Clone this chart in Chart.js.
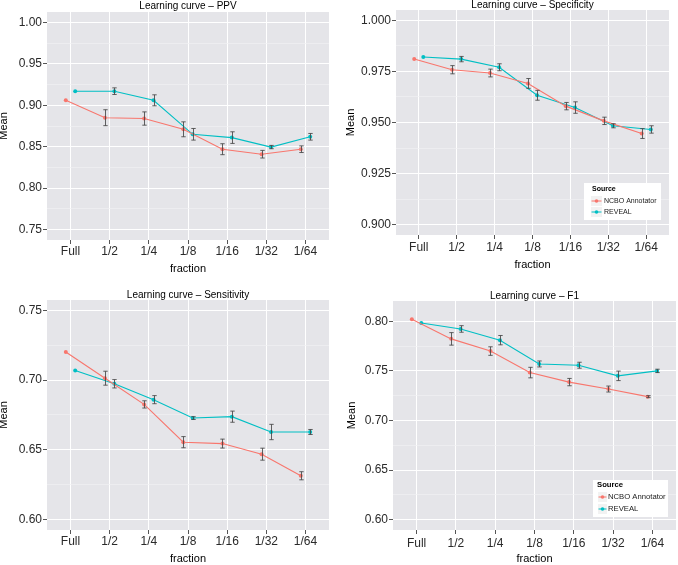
<!DOCTYPE html>
<html><head><meta charset="utf-8">
<script src="https://cdn.jsdelivr.net/npm/chart.js@4.4.0/dist/chart.umd.min.js"></script>
<style>
html,body{margin:0;padding:0;background:#fff;}
#wrap{position:relative;width:678px;height:565px;overflow:hidden;}
canvas{position:absolute;}
</style></head><body>
<div id="wrap">
<canvas id="c1" width="339" height="282" style="left:0;top:0;width:339px;height:282px"></canvas>
<canvas id="c2" width="339" height="282" style="left:339px;top:0;width:339px;height:282px"></canvas>
<canvas id="c3" width="339" height="283" style="left:0;top:282px;width:339px;height:283px"></canvas>
<canvas id="c4" width="339" height="283" style="left:339px;top:282px;width:339px;height:283px"></canvas>
</div>
<script>
// ---- data ----
const categories = ['Full', '1/2', '1/4', '1/8', '1/16', '1/32', '1/64'];
const seriesNames = ['NCBO Annotator', 'REVEAL'];
const legendTitle = 'Source';

const ppvNcbo      = [0.906, 0.885, 0.884, 0.871, 0.847, 0.841, 0.847];
const ppvNcboErr   = [0, 0.0096, 0.008, 0.009, 0.0066, 0.0046, 0.004];
const ppvReveal    = [0.917, 0.917, 0.906, 0.865, 0.861, 0.8496, 0.862];
const ppvRevealErr = [0, 0.004, 0.0066, 0.007, 0.007, 0.002, 0.004];

const specNcbo      = [0.981, 0.9758, 0.9742, 0.9691, 0.958, 0.9508, 0.9446];
const specNcboErr   = [0, 0.002, 0.0019, 0.0024, 0.0018, 0.0018, 0.0024];
const specReveal    = [0.982, 0.981, 0.977, 0.9633, 0.9573, 0.9484, 0.9466];
const specRevealErr = [0, 0.0013, 0.0017, 0.0024, 0.0028, 0.001, 0.0018];

const sensNcbo      = [0.7202, 0.7014, 0.6826, 0.6555, 0.6545, 0.6469, 0.6314];
const sensNcboErr   = [0, 0.005, 0.0026, 0.004, 0.0032, 0.0043, 0.0029];
const sensReveal    = [0.7069, 0.6974, 0.686, 0.6728, 0.6738, 0.6628, 0.6628];
const sensRevealErr = [0, 0.003, 0.0029, 0.001, 0.004, 0.0055, 0.0018];

const f1Ncbo      = [0.802, 0.7823, 0.770, 0.7483, 0.7387, 0.7317, 0.724];
const f1NcboErr   = [0, 0.0063, 0.0043, 0.0053, 0.0037, 0.003, 0.001];
const f1Reveal    = [0.7983, 0.7923, 0.781, 0.757, 0.7557, 0.745, 0.750];
const f1RevealErr = [0, 0.0033, 0.0047, 0.003, 0.003, 0.0048, 0.0017];

const ppvTicks  = [0.75, 0.80, 0.85, 0.90, 0.95, 1.00];
const specTicks = [0.900, 0.925, 0.950, 0.975, 1.000];
const sensTicks = [0.60, 0.65, 0.70, 0.75];
const f1Ticks   = [0.60, 0.65, 0.70, 0.75, 0.80];

// ---- styling ----
const FONT = "'Liberation Sans', Arial, Helvetica, sans-serif";
Chart.defaults.font.family = FONT;
const COLORS = ['#F8766D', '#00BFC4'];
const DODGE = 0.12;

const bgPlugin = {
  id: 'panelBg',
  beforeDraw(chart) {
    const {ctx, chartArea: a} = chart;
    ctx.save();
    ctx.fillStyle = '#E5E5E9';
    ctx.fillRect(a.left, a.top, a.right - a.left, a.bottom - a.top);
    ctx.restore();
  }
};

const errPlugin = {
  id: 'errBars',
  afterDatasetsDraw(chart) {
    const {ctx} = chart;
    const xs = chart.scales.x, ys = chart.scales.y;
    ctx.save();
    ctx.strokeStyle = 'rgba(70,70,70,0.85)';
    ctx.lineWidth = 1;
    chart.data.datasets.forEach(ds => {
      ds.errors.forEach((e, i) => {
        if (!e) return;
        const p = ds.data[i];
        const x = Math.round(xs.getPixelForValue(p.x)) + 0.5;
        const y1 = ys.getPixelForValue(p.y - e), y2 = ys.getPixelForValue(p.y + e);
        ctx.beginPath();
        ctx.moveTo(x, y1); ctx.lineTo(x, y2);
        ctx.moveTo(x - 2.2, y1); ctx.lineTo(x + 2.2, y1);
        ctx.moveTo(x - 2.2, y2); ctx.lineTo(x + 2.2, y2);
        ctx.stroke();
      });
    });
    ctx.restore();
  }
};

const legendPlugin = {
  id: 'boxLegend',
  afterDraw(chart, args, o) {
    if (!o || !o.show) return;
    const {ctx, chartArea: a} = chart;
    const bx = a.right - o.rightInset - o.w, by = a.bottom - o.bottomInset - o.h;
    ctx.save();
    ctx.fillStyle = '#FFFFFF';
    ctx.fillRect(bx, by, o.w, o.h);
    ctx.textBaseline = 'middle';
    ctx.textAlign = 'left';
    ctx.fillStyle = '#000';
    ctx.font = 'bold ' + o.fs + 'px ' + FONT;
    ctx.fillText(legendTitle, bx + o.tx, by + o.ty);
    chart.data.datasets.forEach((ds, i) => {
      const cy = by + o.row0 + i * o.rowH;
      const kx = bx + o.kx;
      ctx.fillStyle = '#F2F2F2';
      ctx.fillRect(kx, cy - o.kh / 2, o.kw, o.kh);
      ctx.strokeStyle = ds.borderColor;
      ctx.lineWidth = 1;
      ctx.beginPath();
      ctx.moveTo(kx + 0.5, cy); ctx.lineTo(kx + o.kw - 0.5, cy);
      ctx.stroke();
      ctx.fillStyle = ds.borderColor;
      ctx.beginPath();
      ctx.arc(kx + o.kw / 2, cy, 1.8, 0, Math.PI * 2);
      ctx.fill();
      ctx.fillStyle = '#1a1a1a';
      ctx.font = o.fs + 'px ' + FONT;
      ctx.fillText(ds.label, kx + o.kw + o.gap, cy);
    });
    ctx.restore();
  }
};

function makeDataset(i, values, errs) {
  const off = i === 0 ? -DODGE : DODGE;
  return {
    label: seriesNames[i],
    data: values.map((v, k) => ({x: k + off, y: v})),
    errors: errs,
    borderColor: COLORS[i],
    backgroundColor: COLORS[i],
    borderWidth: 1.1,
    pointRadius: 2,
    pointBorderWidth: 0,
    pointHoverRadius: 2,
    tension: 0,
    fill: false
  };
}

function yAxis(cfg) {
  const majors = cfg.ticks;
  const step = majors[1] - majors[0];
  const minors = [];
  for (let i = 0; i < majors.length - 1; i++) minors.push((majors[i] + majors[i + 1]) / 2);
  if (majors[0] - step / 2 > cfg.min) minors.push(majors[0] - step / 2);
  if (majors[majors.length - 1] + step / 2 < cfg.max) minors.push(majors[majors.length - 1] + step / 2);
  const isMajor = v => majors.some(m => Math.abs(m - v) < 1e-9);
  const tv = c => (c.tick ? c.tick.value : NaN);
  return {
    type: 'linear',
    position: 'left',
    min: cfg.min, max: cfg.max,
    afterBuildTicks: s => { s.ticks = majors.concat(minors).sort((a, b) => a - b).map(v => ({value: v})); },
    afterFit: s => { s.width = cfg.width; },
    border: {display: false},
    grid: {
      color: c => isMajor(tv(c)) ? '#FFFFFF' : '#F0F0F3',
      lineWidth: c => isMajor(tv(c)) ? 1 : 0.7,
      tickColor: c => isMajor(tv(c)) ? '#555555' : 'rgba(0,0,0,0)',
      tickLength: 4,
      drawTicks: true
    },
    ticks: {
      autoSkip: false,
      padding: 1,
      color: '#2a2a2a',
      font: {size: 12},
      callback: v => isMajor(v) ? v.toFixed(cfg.decimals) : ''
    },
    title: {
      display: true, text: 'Mean', color: '#000',
      font: {size: 11, lineHeight: cfg.titleLH},
      padding: {top: cfg.titlePad, bottom: 0}
    }
  };
}

function xAxis(cfg) {
  return {
    type: 'linear',
    position: 'bottom',
    min: -0.6, max: categories.length - 0.4,
    afterBuildTicks: s => { s.ticks = categories.map((c, i) => ({value: i})); },
    afterFit: s => { s.height = cfg.height; },
    border: {display: false},
    grid: {color: '#FFFFFF', lineWidth: 1, tickColor: '#555555', tickLength: 4, drawTicks: true},
    ticks: {
      autoSkip: false, maxRotation: 0, minRotation: 0,
      padding: cfg.labelPad,
      color: '#2a2a2a',
      font: {size: 12, lineHeight: 1},
      callback: v => (Number.isInteger(v) && categories[v] !== undefined) ? categories[v] : ''
    },
    title: {
      display: true, text: 'fraction', color: '#000',
      font: {size: 11, lineHeight: 1},
      padding: {top: 0, bottom: cfg.titlePadBottom}
    }
  };
}

function makeChart(id, p) {
  return new Chart(document.getElementById(id), {
    type: 'line',
    data: {
      datasets: [makeDataset(0, p.ncbo, p.ncboErr), makeDataset(1, p.reveal, p.revealErr)]
    },
    plugins: [bgPlugin, errPlugin, legendPlugin],
    options: {
      responsive: false,
      animation: false,
      events: [],
      layout: {padding: p.layoutPad},
      plugins: {
        legend: {display: false},
        tooltip: {enabled: false},
        title: {
          display: true, text: p.title, color: '#000', fullSize: false,
          font: {size: 10, lineHeight: p.titleLH, weight: 'normal'},
          padding: 0
        },
        boxLegend: p.legend || {show: false}
      },
      scales: {
        x: xAxis(p.x),
        y: yAxis(p.y)
      }
    }
  });
}

makeChart('c1', {
  title: 'Learning curve – PPV', titleLH: 1.2,
  ncbo: ppvNcbo, ncboErr: ppvNcboErr, reveal: ppvReveal, revealErr: ppvRevealErr,
  layoutPad: {left: 0, right: 10, top: 0, bottom: 0},
  x: {height: 42, labelPad: 2, titlePadBottom: 7.5},
  y: {ticks: ppvTicks, min: 0.7375, max: 1.0125, decimals: 2, width: 47, titleLH: 0.8, titlePad: 0}
});

makeChart('c2', {
  title: 'Learning curve – Specificity', titleLH: 1.0,
  ncbo: specNcbo, ncboErr: specNcboErr, reveal: specReveal, revealErr: specRevealErr,
  layoutPad: {left: 0, right: 9, top: 0, bottom: 0},
  x: {height: 47, labelPad: 3, titlePadBottom: 12},
  y: {ticks: specTicks, min: 0.895, max: 1.005, decimals: 3, width: 57, titleLH: 1.0, titlePad: 6.5},
  legend: {show: true, w: 77, h: 37, rightInset: 8, bottomInset: 15, tx: 8, ty: 6,
           row0: 18, rowH: 11, kx: 7, kw: 11, kh: 10, gap: 2, fs: 7}
});

makeChart('c3', {
  title: 'Learning curve – Sensitivity', titleLH: 0.9,
  ncbo: sensNcbo, ncboErr: sensNcboErr, reveal: sensReveal, revealErr: sensRevealErr,
  layoutPad: {left: 0, right: 10, top: 9, bottom: 0},
  x: {height: 35, labelPad: 2, titlePadBottom: 0.5},
  y: {ticks: sensTicks, min: 0.5925, max: 0.7575, decimals: 2, width: 47, titleLH: 0.8, titlePad: 0}
});

makeChart('c4', {
  title: 'Learning curve – F1', titleLH: 1.0,
  ncbo: f1Ncbo, ncboErr: f1NcboErr, reveal: f1Reveal, revealErr: f1RevealErr,
  layoutPad: {left: 0, right: 1, top: 9, bottom: 0},
  x: {height: 35, labelPad: 3.5, titlePadBottom: 0.5},
  y: {ticks: f1Ticks, min: 0.5895, max: 0.8205, decimals: 2, width: 54, titleLH: 1.0, titlePad: 7},
  legend: {show: true, w: 75, h: 37, rightInset: 8, bottomInset: 13, tx: 4, ty: 5,
           row0: 17, rowH: 12, kx: 5, kw: 9, kh: 10, gap: 1, fs: 7.7}
});
</script>
</body></html>
